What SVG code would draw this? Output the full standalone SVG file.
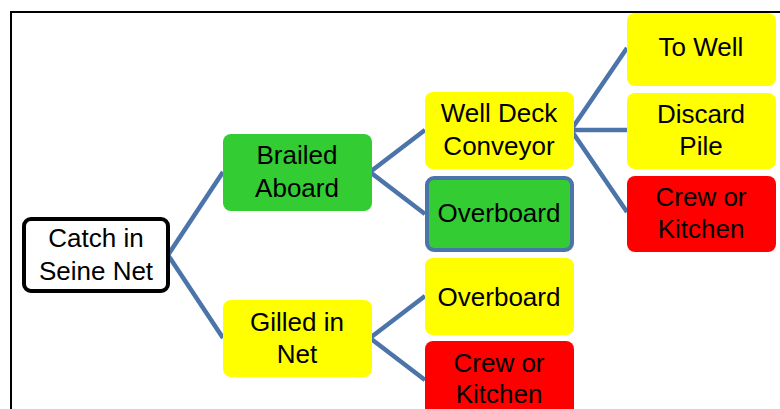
<svg xmlns="http://www.w3.org/2000/svg" width="780" height="409" viewBox="0 0 780 409">
<style>
.n{stroke:none}
.y{fill:#ffff00}
.g{fill:#33cc33}
.r{fill:#ff0000}
.t{font-family:"Liberation Sans",Arial,sans-serif;font-size:26px;fill:#000;text-anchor:middle;dominant-baseline:central}
.e{stroke:#4a74aa;stroke-width:4.5;fill:none;stroke-linejoin:miter}
</style>
<rect x="0" y="0" width="780" height="409" fill="#fff"/>
<path d="M11,409 V12 H780" fill="none" stroke="#000" stroke-width="2"/>
<g id="connectors">
<polyline class="e" points="223,172 168,255 223,338"/>
<polyline class="e" points="425,130 370,172 425,214"/>
<polyline class="e" points="425,296 370,338 425,380"/>
<polyline class="e" points="627,48 571,130 627,212"/>
<line class="e" x1="571" y1="130" x2="627" y2="130"/>
</g>
<g id="catch">
<rect x="24" y="219" width="144" height="72" rx="7" fill="#fff" stroke="#000" stroke-width="4"/>
<text class="t" x="96" y="238">Catch in</text>
<text class="t" x="96" y="271">Seine Net</text>
</g>
<g id="brailed">
<rect class="g" x="223" y="134" width="149" height="77" rx="8"/>
<text class="t" x="297" y="155">Brailed</text>
<text class="t" x="297" y="188">Aboard</text>
</g>
<g id="gilled">
<rect class="y" x="223" y="300" width="149" height="77" rx="8"/>
<text class="t" x="297" y="322">Gilled in</text>
<text class="t" x="297" y="354">Net</text>
</g>
<g id="welldeck">
<rect class="y" x="425" y="92" width="149" height="77" rx="8"/>
<text class="t" x="499" y="113">Well Deck</text>
<text class="t" x="499" y="146">Conveyor</text>
</g>
<g id="overboard1">
<rect class="g" x="427" y="178" width="145" height="72" rx="7" stroke="#4a74aa" stroke-width="4"/>
<text class="t" x="499" y="213">Overboard</text>
</g>
<g id="overboard2">
<rect class="y" x="425" y="258" width="149" height="77" rx="8"/>
<text class="t" x="499" y="297">Overboard</text>
</g>
<g id="crew2">
<rect class="r" x="425" y="341" width="149" height="80" rx="8"/>
<text class="t" x="499" y="363">Crew or</text>
<text class="t" x="499" y="394">Kitchen</text>
</g>
<g id="towell">
<rect class="y" x="627" y="13" width="149" height="73" rx="8"/>
<text class="t" x="701" y="47">To Well</text>
</g>
<g id="discard">
<rect class="y" x="627" y="93" width="149" height="76" rx="8"/>
<text class="t" x="701" y="114">Discard</text>
<text class="t" x="701" y="146">Pile</text>
</g>
<g id="crew1">
<rect class="r" x="627" y="176" width="149" height="76" rx="8"/>
<text class="t" x="701" y="197">Crew or</text>
<text class="t" x="701" y="229">Kitchen</text>
</g>
</svg>
